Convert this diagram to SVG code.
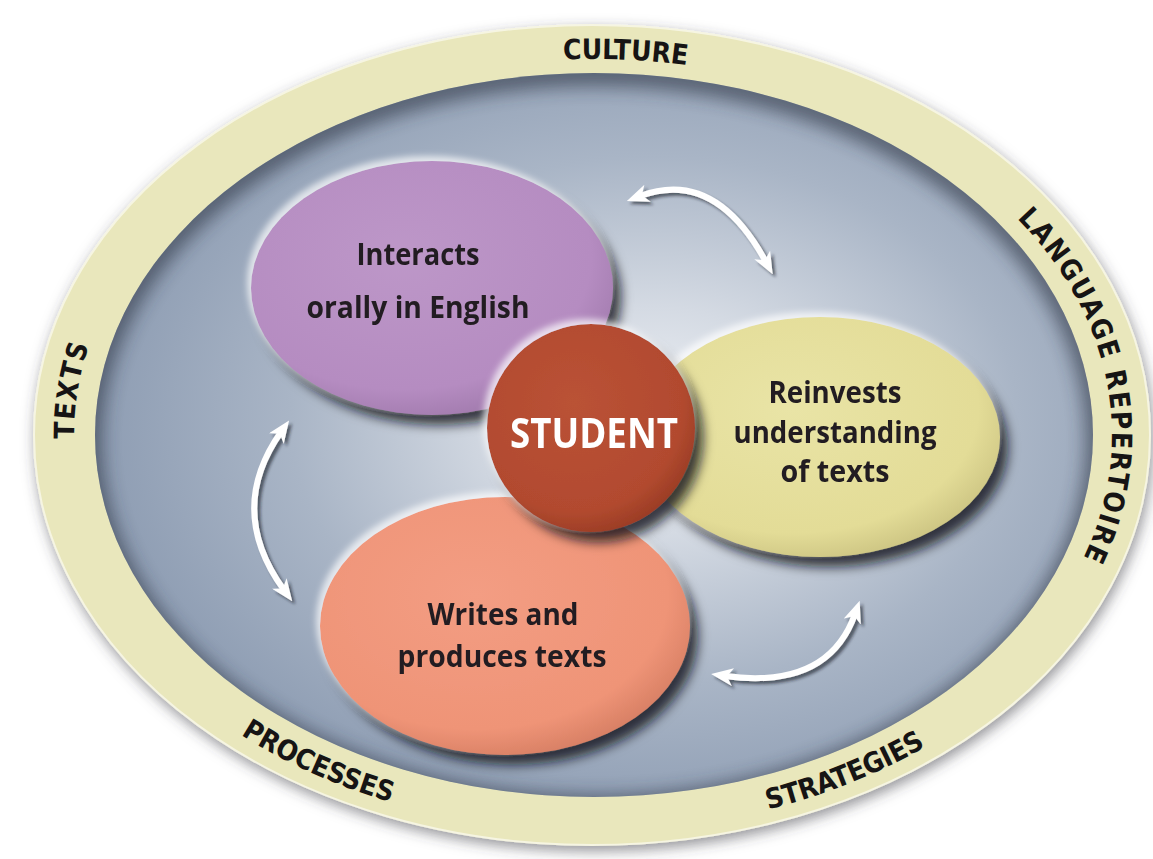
<svg xmlns="http://www.w3.org/2000/svg" width="1153" height="859" viewBox="0 0 1153 859">
  <style>
    .ring-label { font-family: "DejaVu Sans Condensed", "DejaVu Sans", "Liberation Sans", sans-serif; font-weight: bold; font-stretch: condensed; font-size: 28px; fill: #161414; }
    .node-text { font-family: "Open Sans", "Liberation Sans", sans-serif; font-weight: 700; font-size: 30px; fill: #231f20; text-anchor: middle; }
    .center-text { font-family: "Open Sans", "Liberation Sans", sans-serif; font-weight: 700; font-size: 42px; fill: #ffffff; text-anchor: middle; }
    .arrow { fill: none; stroke: #ffffff; stroke-width: 6; stroke-linecap: round; marker-start: url(#head); marker-end: url(#head); }
  </style>
  <defs>
    <!-- soft shadow around the outer band -->
    <filter id="ringShadow" x="-10%" y="-10%" width="120%" height="125%">
      <feGaussianBlur in="SourceAlpha" stdDeviation="7" result="b"/>
      <feOffset in="b" dx="2" dy="5" result="o"/>
      <feFlood flood-color="#3c3c44" flood-opacity="0.55"/>
      <feComposite in2="o" operator="in" result="sh"/>
      <feMerge><feMergeNode in="sh"/><feMergeNode in="SourceGraphic"/></feMerge>
    </filter>
    <!-- inset darkening along the rim of the blue field -->
    <filter id="insetBlur" x="-10%" y="-10%" width="120%" height="120%">
      <feGaussianBlur stdDeviation="9"/>
    </filter>
    <!-- raised look for the nodes: dark shadow lower right, light rim upper left -->
    <filter id="nodeShadow" x="-25%" y="-25%" width="160%" height="165%">
      <feGaussianBlur in="SourceAlpha" stdDeviation="6" result="b"/>
      <feOffset in="b" dx="8" dy="10" result="o"/>
      <feFlood flood-color="#0e1018" flood-opacity="0.8"/>
      <feComposite in2="o" operator="in" result="sh"/>
      <feGaussianBlur in="SourceAlpha" stdDeviation="3" result="b2"/>
      <feOffset in="b2" dx="-4" dy="-5" result="o2"/>
      <feFlood flood-color="#ffffff" flood-opacity="0.7"/>
      <feComposite in2="o2" operator="in" result="hl"/>
      <feMerge><feMergeNode in="sh"/><feMergeNode in="hl"/><feMergeNode in="SourceGraphic"/></feMerge>
    </filter>
    <filter id="arrowShadow" x="-20%" y="-20%" width="140%" height="140%">
      <feGaussianBlur in="SourceAlpha" stdDeviation="1.5" result="b"/>
      <feOffset in="b" dx="3" dy="3" result="o"/>
      <feFlood flood-color="#1a1d26" flood-opacity="0.6"/>
      <feComposite in2="o" operator="in" result="sh"/>
      <feMerge><feMergeNode in="sh"/><feMergeNode in="SourceGraphic"/></feMerge>
    </filter>

    <radialGradient id="fieldGrad" cx="0.56" cy="0.48" r="0.56">
      <stop offset="0" stop-color="#eef1f5"/>
      <stop offset="0.28" stop-color="#d4dae3"/>
      <stop offset="0.65" stop-color="#a9b5c6"/>
      <stop offset="1" stop-color="#8e9db3"/>
    </radialGradient>
    <radialGradient id="purpleGrad" cx="0.42" cy="0.38" r="0.65">
      <stop offset="0" stop-color="#bd97c8"/>
      <stop offset="0.8" stop-color="#b58cc1"/>
      <stop offset="1" stop-color="#a27bae"/>
    </radialGradient>
    <radialGradient id="yellowGrad" cx="0.42" cy="0.38" r="0.65">
      <stop offset="0" stop-color="#e9e4a6"/>
      <stop offset="0.8" stop-color="#e3dc97"/>
      <stop offset="1" stop-color="#cdc583"/>
    </radialGradient>
    <radialGradient id="salmonGrad" cx="0.42" cy="0.38" r="0.65">
      <stop offset="0" stop-color="#f39d83"/>
      <stop offset="0.8" stop-color="#ef9477"/>
      <stop offset="1" stop-color="#d77f64"/>
    </radialGradient>
    <radialGradient id="studentGrad" cx="0.42" cy="0.38" r="0.65">
      <stop offset="0" stop-color="#ba5236"/>
      <stop offset="0.8" stop-color="#b24a2f"/>
      <stop offset="1" stop-color="#9a3c25"/>
    </radialGradient>

    <clipPath id="fieldClip">
      <ellipse cx="594" cy="435" rx="499" ry="362"/>
    </clipPath>

    <marker id="head" viewBox="0 0 22 18" refX="8" refY="9" markerWidth="22" markerHeight="18" markerUnits="userSpaceOnUse" orient="auto-start-reverse">
      <path d="M0,0 L22,9 L0,18 L6,9 Z" fill="#ffffff"/>
    </marker>

    <!-- baselines for the band labels: clockwise (tops outward) and counter-clockwise (tops inward) -->
    <path id="arcTexts" d="M118.9,587.9 A519,376 0 0 1 173.1,214.0"/>
    <path id="arcCulture" d="M363.9,97.6 A519,376 0 0 1 881.7,122.5"/>
    <path id="arcLanguage" d="M943.6,157.8 A519,376 0 0 1 1030.7,637.0"/>
    <path id="arcProcesses" d="M112.7,614.8 A539,396 0 0 0 564.8,830.5"/>
    <path id="arcStrategies" d="M593,831 A539,396 0 0 0 1059.8,633"/>
  </defs>

  <rect width="1153" height="859" fill="#ffffff"/>

  <!-- outer band -->
  <g id="band">
    <ellipse cx="592" cy="435" rx="558" ry="410" fill="#e9e7bc" stroke="#f6f5e2" stroke-width="2" filter="url(#ringShadow)"/>
    <text class="ring-label"><textPath href="#arcTexts" startOffset="50%" text-anchor="middle" textLength="95">TEXTS</textPath></text>
    <text class="ring-label"><textPath href="#arcCulture" startOffset="50%" text-anchor="middle" textLength="124">CULTURE</textPath></text>
    <text class="ring-label"><textPath href="#arcLanguage" startOffset="50%" text-anchor="middle" textLength="370">LANGUAGE REPERTOIRE</textPath></text>
    <text class="ring-label"><textPath href="#arcProcesses" startOffset="50%" text-anchor="middle" textLength="165">PROCESSES</textPath></text>
    <text class="ring-label"><textPath href="#arcStrategies" startOffset="50%" text-anchor="middle" textLength="170">STRATEGIES</textPath></text>
  </g>

  <!-- inner blue field with recessed rim -->
  <g id="field">
    <ellipse cx="594" cy="435" rx="499" ry="362" fill="url(#fieldGrad)"/>
    <g clip-path="url(#fieldClip)">
      <ellipse cx="594" cy="441" rx="505" ry="368" fill="none" stroke="#2c323f" stroke-width="26" opacity="0.6" filter="url(#insetBlur)"/>
    </g>
  </g>

  <!-- connectors: curved two-way arrows -->
  <g id="connectors" filter="url(#arrowShadow)">
    <path class="arrow" d="M640,196 Q715,168 766,262"/>
    <path class="arrow" d="M281,432 Q226,510 284,590"/>
    <path class="arrow" d="M725,676 Q828,690 855,614"/>
  </g>

  <g id="node-interacts" filter="url(#nodeShadow)">
    <ellipse cx="432" cy="288" rx="181" ry="127" fill="url(#purpleGrad)"/>
    <text class="node-text" x="418" y="265" textLength="123" lengthAdjust="spacingAndGlyphs">Interacts</text>
    <text class="node-text" x="418" y="318" textLength="223" lengthAdjust="spacingAndGlyphs">orally in English</text>
  </g>

  <g id="node-reinvests" filter="url(#nodeShadow)">
    <ellipse cx="820" cy="437" rx="180" ry="120" fill="url(#yellowGrad)"/>
    <text class="node-text" x="835" y="403" textLength="133" lengthAdjust="spacingAndGlyphs">Reinvests</text>
    <text class="node-text" x="835" y="443" textLength="203" lengthAdjust="spacingAndGlyphs">understanding</text>
    <text class="node-text" x="835" y="482" textLength="109" lengthAdjust="spacingAndGlyphs">of texts</text>
  </g>

  <g id="node-writes" filter="url(#nodeShadow)">
    <ellipse cx="505" cy="626" rx="185" ry="129" fill="url(#salmonGrad)"/>
    <text class="node-text" x="503" y="625" textLength="151" lengthAdjust="spacingAndGlyphs">Writes and</text>
    <text class="node-text" x="502" y="667" textLength="209" lengthAdjust="spacingAndGlyphs">produces texts</text>
  </g>

  <g id="node-student" filter="url(#nodeShadow)">
    <circle cx="591" cy="428" r="104" fill="url(#studentGrad)"/>
    <text class="center-text" x="594" y="448" textLength="168" lengthAdjust="spacingAndGlyphs">STUDENT</text>
  </g>
</svg>
